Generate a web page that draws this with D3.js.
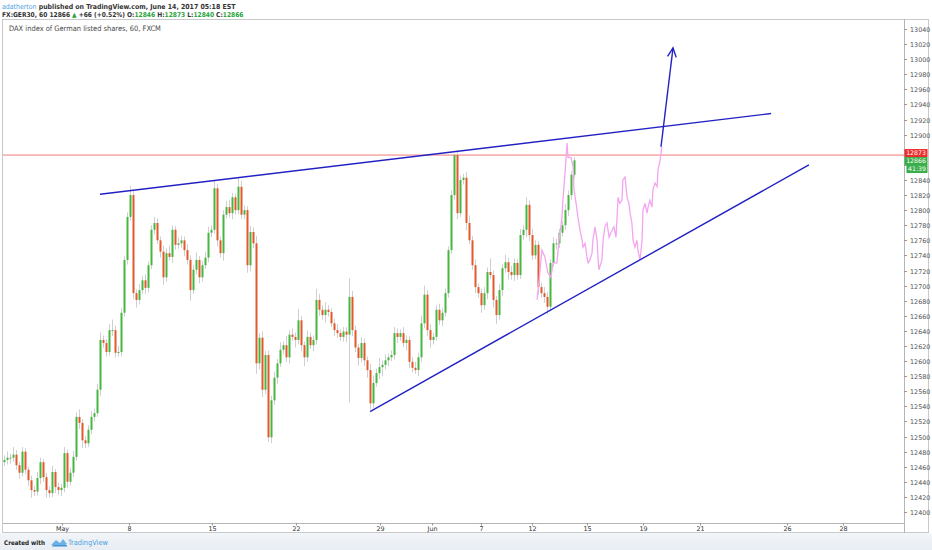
<!DOCTYPE html>
<html><head><meta charset="utf-8">
<script src="https://cdn.jsdelivr.net/npm/d3@7"></script>
<style>
html,body{margin:0;padding:0;background:#fff;}
svg{display:block;font-family:"DejaVu Sans",Verdana,sans-serif;}
.cond{font-family:"DejaVu Sans Condensed","Liberation Sans Narrow","DejaVu Sans",sans-serif;}
</style></head><body>
<svg id="c" width="932" height="550"></svg>
<script>
// ---------- DATA ----------
const firstOpen = 12466;
const closes = [
12469,12472,12472,12476,12462,12452,12480,12456,12442,12429,
12427,12445,12466,12446,12429,12425,12453,12433,12429,12432,
12478,12440,12452,12473,12526,12518,12495,12491,12509,12526,
12531,12562,12628,12624,12612,12641,12641,12611,12612,12664,
12734,12791,12820,12690,12681,12694,12707,12697,12727,12774,
12783,12760,12745,12711,12743,12738,12774,12754,12756,12760,
12747,12734,12694,12721,12734,12711,12727,12737,12770,12774,
12829,12760,12743,12794,12804,12796,12817,12800,12831,12794,
12800,12727,12771,12756,12597,12631,12562,12608,12499,12548,
12578,12597,12615,12621,12605,12635,12632,12628,12654,12621,
12605,12632,12621,12628,12681,12668,12661,12668,12665,12650,
12641,12637,12632,12639,12635,12685,12641,12618,12604,12624,
12601,12588,12544,12571,12584,12592,12595,12601,12605,12608,
12637,12632,12637,12624,12628,12599,12591,12588,12605,12650,
12688,12641,12628,12632,12668,12654,12664,12690,12747,12820,
12873,12796,12840,12843,12783,12760,12727,12698,12690,12674,
12690,12718,12714,12681,12661,12694,12723,12731,12718,12714,
12730,12714,12767,12774,12807,12767,12740,12754,12698,12690,
12685,12672,12730,12756,12756,12770,12780,12800,12820,12847,
12866];
const wickUp = [
6,8,5,10,6,4,6,5,4,6, 5,8,6,4,6,5,8,4,6,5, 8,5,6,8,6,10,5,6,6,8,
6,8,10,6,5,8,14,6,8,6, 5,6,12,6,5,8,6,8,5,6, 8,6,5,8,6,10,6,5,8,6,
5,8,6,6,10,5,6,8,8,6, 10,6,5,6,8,10,6,5,12,8, 6,5,8,6,10,6,8,5,6,6,
8,6,10,5,12,6,8,6,15,6, 5,8,6,6,15,8,6,10,6,5, 6,8,5,6,6,25,8,6,5,8,
6,5,8,10,6,12,6,8,5,6, 8,6,5,8,6,5,6,8,6,10, 12,6,8,5,6,8,6,6,5,6,
2,6,6,5,8,10,6,8,5,6, 8,6,18,6,5,8,6,10,6,8, 6,5,8,6,10,6,8,6,5,6,
8,6,5,8,6,5,6,8,6,5, 4];
const wickDn = [
5,6,8,5,6,8,5,6,8,10, 6,5,8,6,10,6,5,8,6,8, 6,8,5,6,5,8,10,6,5,6,
6,5,8,6,6,5,8,6,5,6, 5,6,5,8,10,6,5,8,6,5, 6,5,8,10,6,5,8,6,5,6,
8,6,14,5,6,8,6,5,6,6, 5,8,6,10,5,6,8,6,5,6, 6,10,8,6,14,8,10,6,6,8,
6,8,5,6,6,8,5,10,6,8, 12,6,5,8,6,8,6,10,6,5, 8,6,5,6,10,90,8,6,10,6,
8,10,8,6,5,8,12,6,8,5, 6,8,5,6,10,8,6,5,8,6, 6,8,10,6,5,6,8,5,6,5,
6,8,5,6,10,5,6,8,6,10, 6,8,5,10,12,6,8,6,10,6, 8,6,5,6,10,8,6,5,10,6,
8,10,6,5,8,6,5,6,8,6, 5];
// hand-drawn projection (slot, price)
const projSlots = [177.7,178.7,179.3,180.3,181.3,182.3,183,184.3,185,186,186.3,187,187.7,188,189,189.7,190,190.7,191.3,192,192.7,193,193.7,194.3,194.7,195.3,196,196.3,197,197.7,198,198.3,199.3,199.7,200.3,201,201.7,202.3,203.3,204,204.7,205.3,206,206.3,207,207.7,208.3,208.7,209.3,209.7,210.3,211,211.3,212,212.7,213,213.7,214.3,214.7,215.3,216,216.3,217,217.7,218,218.7,219.3];
const projPrices = [12681,12721,12747,12738,12717,12711,12730,12730,12760,12791,12813,12849,12889,12870,12870,12857,12827,12809,12791,12774,12760,12751,12756,12738,12730,12734,12743,12760,12778,12760,12738,12721,12734,12760,12778,12783,12764,12770,12778,12764,12817,12809,12813,12840,12844,12817,12809,12796,12783,12760,12751,12760,12747,12734,12760,12800,12809,12796,12804,12813,12804,12827,12836,12831,12853,12866,12884];
const upperLine = [[32, 12821], [255.7, 12928]];
const lowerLine = [[122, 12533], [268.3, 12860]];
const arrowLine = [[219, 12884], [223, 13015]];
const levelPrice = 12873;
const lastPrice = 12866;
const timeTickSlots = [19.4, 41.7, 69.4, 97.2, 125.3, 142.6, 159, 176.1, 194.3, 213.1, 232, 260.9, 279.8];
const timeTickLabels = ["May","8","15","22","29","Jun","7","12","15","19","21","26","28"];
const priceTicks = d3.range(12400, 13041, 20);

// ---------- CHART ----------
const svg = d3.select("#c");
const L = 3, R = 904, T = 19, B = 523;
const x = d3.scaleLinear().domain([-0.5, 299]).range([2.5, 901]);
const y = d3.scaleLinear().domain([12385.4, 13053.3]).range([B, T]);

function fitWidth(sel, target){
  const w = sel.node().getComputedTextLength();
  const fs = parseFloat(sel.attr("font-size"));
  if (w > 0) sel.attr("font-size", fs * target / w);
}

const defs = svg.append("defs");
const g1 = defs.append("linearGradient").attr("id","fg").attr("x1",0).attr("x2",0).attr("y1",0).attr("y2",1);
g1.append("stop").attr("offset","0").attr("stop-color","#f2f5f9");
g1.append("stop").attr("offset","1").attr("stop-color","#e8edf4");
svg.append("rect").attr("x",0).attr("y",533).attr("width",932).attr("height",17).attr("fill","url(#fg)");
defs.append("clipPath").attr("id","clip").append("rect").attr("x",L).attr("y",T).attr("width",R-L).attr("height",B-T);

// header
const h1 = svg.append("text").attr("class","cond").attr("x",2).attr("y",8.5).attr("font-size",8).attr("font-weight","bold").attr("fill","#333");
h1.append("tspan").attr("fill","#4aa0de").attr("font-weight","normal").text("adatherton");
h1.append("tspan").text(" published on TradingView.com, June 14, 2017 05:18 EST");
fitWidth(h1, 234);
const grn = "#27a33a";
const h2 = svg.append("text").attr("class","cond").attr("x",2).attr("y",16.8).attr("font-size",8).attr("font-weight","bold").attr("fill","#333");
h2.append("tspan").text("FX:GER30, 60  12866 ");
h2.append("tspan").attr("fill",grn).text("▲");
h2.append("tspan").text(" +66 (+0.52%) O:");
h2.append("tspan").attr("fill",grn).text("12846");
h2.append("tspan").text(" H:");
h2.append("tspan").attr("fill",grn).text("12873");
h2.append("tspan").text(" L:");
h2.append("tspan").attr("fill",grn).text("12840");
h2.append("tspan").text(" C:");
h2.append("tspan").attr("fill",grn).text("12866");
fitWidth(h2, 242);

// frames
svg.append("rect").attr("x",2.5).attr("y",19.5).attr("width",926).attr("height",513).attr("fill","none").attr("stroke","#c9c9c9");
svg.append("line").attr("x1",R+0.5).attr("x2",R+0.5).attr("y1",T).attr("y2",533).attr("stroke","#b5b5b5");
svg.append("line").attr("x1",L).attr("x2",R).attr("y1",B+0.5).attr("y2",B+0.5).attr("stroke","#b5b5b5");

const title = svg.append("text").attr("class","cond").attr("x",9).attr("y",30.5).attr("font-size",7.2).attr("fill","#4a4a4a")
  .text("DAX index of German listed shares, 60, FXCM");
fitWidth(title, 152);

const plot = svg.append("g").attr("clip-path","url(#clip)");

plot.append("line").attr("x1",L).attr("x2",R).attr("y1",y(levelPrice)).attr("y2",y(levelPrice))
  .attr("stroke","#f07b78").attr("stroke-width",1);

const candles = closes.map((c,i)=>({i, o: i===0 ? firstOpen : closes[i-1], c, hu: wickUp[i], hd: wickDn[i]}));
plot.append("g").selectAll("line").data(candles).join("line")
  .attr("x1",d=>Math.round(x(d.i))+0.5).attr("x2",d=>Math.round(x(d.i))+0.5)
  .attr("y1",d=>y(Math.max(d.o,d.c)+d.hu)).attr("y2",d=>y(Math.min(d.o,d.c)-d.hd))
  .attr("stroke","#cfcfcf").attr("stroke-width",1);
plot.append("g").selectAll("rect").data(candles).join("rect")
  .attr("x",d=>Math.round(x(d.i))-0.5).attr("width",2)
  .attr("y",d=>y(Math.max(d.o,d.c)))
  .attr("height",d=>Math.max(1, Math.abs(y(d.o)-y(d.c))))
  .attr("fill",d=>d.c>=d.o ? "#47b641" : "#e2592d");

plot.append("path").datum(projSlots.map((s,k)=>[s,projPrices[k]]))
  .attr("d", d3.line().x(d=>x(d[0])).y(d=>y(d[1])))
  .attr("fill","none").attr("stroke","#f3a6ef").attr("stroke-width",1.3);

const blue = "#2222c4";
[upperLine, lowerLine, arrowLine].forEach(ln=>{
  plot.append("line").attr("x1",x(ln[0][0])).attr("y1",y(ln[0][1])).attr("x2",x(ln[1][0])).attr("y2",y(ln[1][1]))
    .attr("stroke",blue).attr("stroke-width",1.4);
});
{
  const x0=x(arrowLine[0][0]), y0=y(arrowLine[0][1]), x1=x(arrowLine[1][0]), y1=y(arrowLine[1][1]);
  const ang = Math.atan2(y1-y0, x1-x0), len = 10, spread = 0.45;
  const p = [[x1 - len*Math.cos(ang-spread), y1 - len*Math.sin(ang-spread)],[x1,y1],[x1 - len*Math.cos(ang+spread), y1 - len*Math.sin(ang+spread)]];
  plot.append("path").attr("d", d3.line()(p)).attr("fill","none").attr("stroke",blue).attr("stroke-width",1.4);
}

const pa = svg.append("g");
const tagTop = y(levelPrice) - 6, tagBottom = y(lastPrice) + 13;
priceTicks.forEach(t=>{
  const yy = Math.round(y(t))+0.5;
  pa.append("line").attr("x1",R).attr("x2",R+3).attr("y1",yy).attr("y2",yy).attr("stroke","#999");
  if (yy > tagTop - 3 && yy < tagBottom + 3) return;
  pa.append("text").attr("x",910).attr("y",yy).attr("dy","0.35em").attr("font-size",6.4).attr("fill","#555").text(t);
});
function tag(yc, x0, w, fill, txt){
  pa.append("rect").attr("x",x0).attr("y",yc-4).attr("width",w).attr("height",8).attr("fill",fill);
  pa.append("text").attr("x",x0+w/2).attr("y",yc).attr("dy","0.35em").attr("text-anchor","middle")
    .attr("font-size",6.2).attr("fill","#fff").text(txt);
}
tag(y(levelPrice)-2, 904.5, 23, "#ec2b2b", String(levelPrice));
tag(y(lastPrice)+0.7, 904.5, 23, "#3aae4a", String(lastPrice));
tag(y(lastPrice)+8.7, 906.5, 21, "#3aae4a", "41:39");

const ta = svg.append("g");
timeTickSlots.forEach((s,k)=>{
  const xx = Math.round(x(s))+0.5;
  ta.append("line").attr("x1",xx).attr("x2",xx).attr("y1",B).attr("y2",B+2.5).attr("stroke","#999");
  ta.append("text").attr("x",xx).attr("y",531).attr("text-anchor","middle").attr("font-size",6.4).attr("fill","#333").text(timeTickLabels[k]);
});

const cw = svg.append("text").attr("class","cond").attr("x",4).attr("y",544.8).attr("font-size",8).attr("font-weight","bold").attr("fill","#222").text("Created with");
fitWidth(cw, 41);
const logo = svg.append("g").attr("transform","translate(51,538)");
logo.append("path").attr("d","M0,7 L5,2 L9,5 L12,1 L16,6 L14,7 Z").attr("fill","#6fb3e6");
logo.append("path").attr("d","M2,7 L16,7 L16,8.5 L1,8.5 Z").attr("fill","#3f92d4");
const tv = svg.append("text").attr("class","cond").attr("x",68).attr("y",544.8).attr("font-size",8).attr("fill","#4a9ee0").text("TradingView");
fitWidth(tv, 40);
</script>
</body></html>
